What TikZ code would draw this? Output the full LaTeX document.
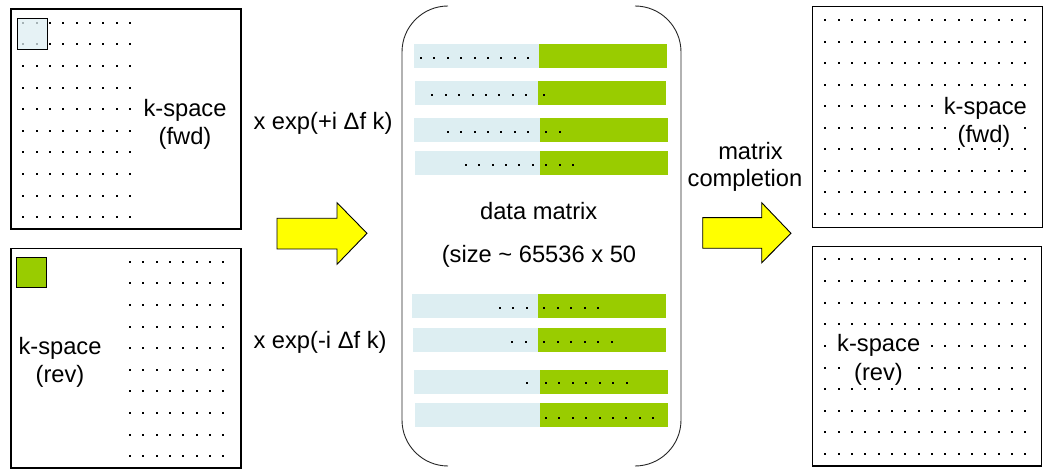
\documentclass[tikz,border=0pt]{standalone}
\usepackage{fontspec}
\setmainfont{Liberation Sans}
\definecolor{lblue}{RGB}{221,238,242}
\definecolor{mgreen}{RGB}{153,204,0}
\definecolor{ayellow}{RGB}{255,255,0}
\newcommand\mydot[2]{\fill[kdot] ({#1-1},{#2-1}) rectangle ++(2,2);}
\begin{document}
\begin{tikzpicture}[x=1pt,y=-1pt,
  lbl/.style={inner sep=0pt, anchor=base, font=\fontsize{23.7}{28.4}\selectfont},
  kbox/.style={draw=black, line width=1.1pt},
  kdot/.style={fill=black},
  bluebar/.style={fill=lblue},
  greenbar/.style={fill=mgreen},
  bigarrow/.style={draw=black, fill=ayellow, line width=0.9pt, line join=miter},
  bracket/.style={draw=black!85, line width=0.9pt}]
\useasboundingbox (0,0) rectangle (1047,470);

% ---------- left boxes ----------
\draw[kbox] (11,9) rectangle (241,229);
\foreach \r in {0,...,9} \foreach \c in {0,...,8} {\mydot{23.3+13.34*\c}{22.7+21.62*\r}}
\draw[kbox, line width=1pt, fill=lblue, fill opacity=0.75] (17.3,18.3) rectangle (47.7,49.3);
\node[lbl] (tlk) at (185,117) {k-space};
\node[lbl] (tlf) at (185,145) {(fwd)};

\draw[kbox] (11,248.3) rectangle (241,468);
\foreach \r in {0,...,9} \foreach \c in {0,...,7} {\mydot{130+13.33*\c}{261.7+21.62*\r}}
\draw[kbox, line width=1pt, fill=mgreen] (16.7,257.3) rectangle (46.7,287.3);
\node[lbl] (blk) at (60,354.5) {k-space};
\node[lbl] (blr) at (60,382) {(rev)};

% ---------- labels & arrow left ----------
\node[lbl, anchor=base west] (expp) at (253.3,130) {x exp(+i Δf k)};
\node[lbl, anchor=base west] (expm) at (253.3,348.3) {x exp(-i Δf k)};
\draw[bigarrow] (277,218.3) -- (337,218.3) -- (337,202.7) -- (367,233.3) -- (337,264.3) -- (337,249) -- (277,249) -- cycle;

% ---------- data matrix ----------
\draw[bracket] (448,6) .. controls (422.6,6) and (402,26.6) .. (402,52) -- (402,420) .. controls (402,445.4) and (422.6,466) .. (448,466);
\draw[bracket] (635,6) .. controls (660.4,6) and (681,26.6) .. (681,52) -- (681,420) .. controls (681,445.4) and (660.4,466) .. (635,466);

\fill[bluebar] (414,44) rectangle (539,68.3);   \fill[greenbar] (539,44) rectangle (667,68.3);
\fill[bluebar] (415,81) rectangle (538,105);    \fill[greenbar] (538,81) rectangle (666,105);
\fill[bluebar] (414,117.7) rectangle (540,141.7); \fill[greenbar] (540,117.7) rectangle (668,141.7);
\fill[bluebar] (415,151) rectangle (540,175);   \fill[greenbar] (540,151) rectangle (668,175);
\fill[bluebar] (412,294) rectangle (538,317.7); \fill[greenbar] (538,294) rectangle (666,317.7);
\fill[bluebar] (413,328) rectangle (538,351.7); \fill[greenbar] (538,328) rectangle (666,351.7);
\fill[bluebar] (414,370) rectangle (540,393.7); \fill[greenbar] (540,370) rectangle (668,393.7);
\fill[bluebar] (415,403) rectangle (540,426.7); \fill[greenbar] (540,403) rectangle (668,426.7);

\foreach \k in {0,...,8} {\mydot{421+13.4*\k}{58.3}}
\foreach \k in {0,...,7} {\mydot{432.3+13.4*\k}{95}}
\mydot{544.3}{95}
\foreach \k in {0,...,6} {\mydot{447.7+13.43*\k}{131.7}}
\foreach \k in {0,1} {\mydot{545.7+14.3*\k}{131.7}}
\foreach \k in {0,...,5} {\mydot{466+13.34*\k}{165}}
\foreach \k in {0,1,2} {\mydot{545.7+13.8*\k}{165}}
\foreach \x in {500,513.3,526.7} {\mydot{\x}{307.7}}
\foreach \k in {0,...,4} {\mydot{544.3+13.5*\k}{307.7}}
\foreach \x in {512.3,525.7} {\mydot{\x}{341.7}}
\foreach \k in {0,...,5} {\mydot{544.3+13.5*\k}{341.7}}
\mydot{526.7}{383.3}
\foreach \k in {0,...,6} {\mydot{545.7+13.5*\k}{383.3}}
\foreach \k in {0,...,8} {\mydot{545.7+13.45*\k}{417.7}}

\node[lbl] (dm1) at (538.7,219.3) {data matrix};
\node[lbl] (dm2) at (539,262.5) {(size \textasciitilde{} 65536 x 50};

% ---------- right arrow ----------
\node[lbl] (mc1) at (750.5,160) {matrix};
\node[lbl] (mc2) at (745,187) {completion};
\draw[bigarrow] (702.7,217.7) -- (761.7,217.7) -- (761.7,202.7) -- (791,233.3) -- (761.7,262.7) -- (761.7,248.3) -- (702.7,248.3) -- cycle;

% ---------- right boxes ----------
\draw[kbox] (812.7,6.7) rectangle (1042.5,227.3);
\foreach \r in {0,1,2,3,6,7,8,9} \foreach \c in {0,...,15} {\mydot{825.3+13.333*\c}{20+21.56*\r}}
\foreach \c in {0,...,8} {\mydot{825.3+13.333*\c}{20+21.56*4}}
\foreach \c in {0,...,9,15} {\mydot{825.3+13.333*\c}{20+21.56*5}}
\node[lbl] (trk) at (985.3,114.3) {k-space};
\node[lbl] (trf) at (984,143) {(fwd)};

\draw[kbox] (812.7,246.7) rectangle (1041.5,466);
\foreach \r in {0,1,2,3,6,7,8,9} \foreach \c in {0,...,15} {\mydot{825.3+13.333*\c}{259.5+21.6*\r}}
\foreach \c in {0,8,9,...,15} {\mydot{825.3+13.333*\c}{259.5+21.6*4}}
\foreach \c in {0,1,7,8,...,15} {\mydot{825.3+13.333*\c}{259.5+21.6*5}}
\node[lbl] (brk) at (878.7,351.7) {k-space};
\node[lbl] (brr) at (878.5,380) {(rev)};
\end{tikzpicture}
\end{document}
